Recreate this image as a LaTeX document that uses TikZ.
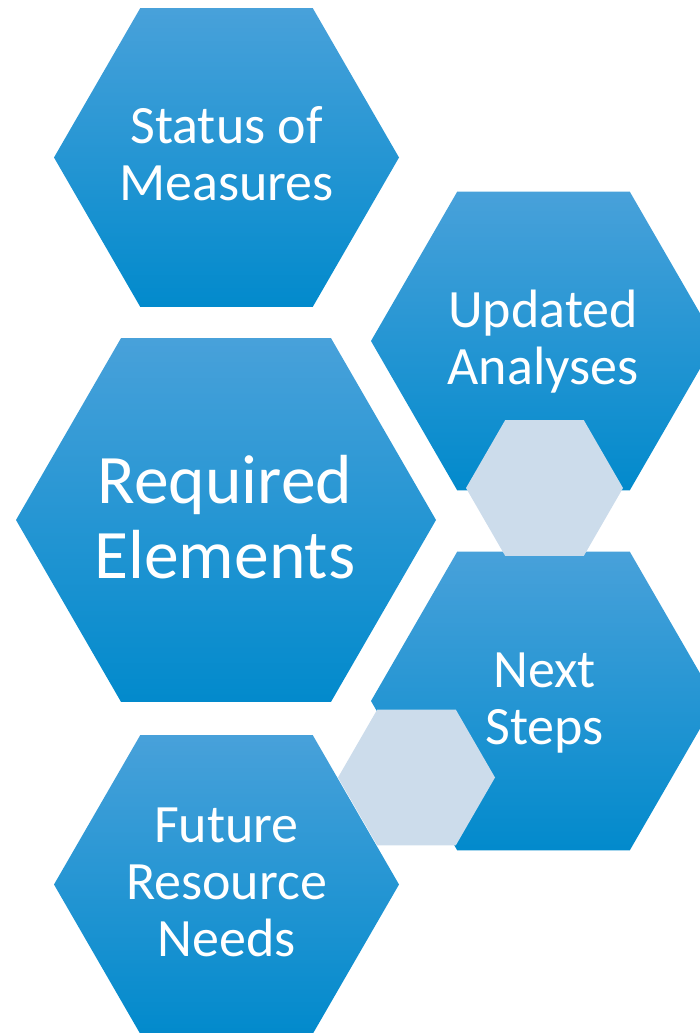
\documentclass[tikz,border=0pt]{standalone}
\usepackage{fontspec}
\setmainfont{Carlito}
\definecolor{hextop}{RGB}{72,161,218}
\definecolor{hexmid}{RGB}{4,154,220}
\definecolor{hexbot}{RGB}{2,138,204}
\definecolor{hexlight}{RGB}{204,220,235}
\tikzset{
  bighex/.style={top color=hextop, middle color=hexmid, bottom color=hexbot, draw=none},
  smallhex/.style={fill=hexlight, draw=none},
  lbl/.style={text=white, inner sep=0pt, anchor=base, font=\fontsize{54}{57}\selectfont},
  biglbl/.style={lbl, font=\fontsize{69.5}{75}\selectfont},
}
\newcommand\hexat[4]{\path[#1] ({#2-#4},{#3}) -- ({#2-0.5*#4},{#3-0.8660254*#4}) -- ({#2+0.5*#4},{#3-0.8660254*#4}) -- ({#2+#4},{#3}) -- ({#2+0.5*#4},{#3+0.8660254*#4}) -- ({#2-0.5*#4},{#3+0.8660254*#4}) -- cycle;}
\newcommand\hexlines[1]{\begin{tabular}[t]{@{}c@{}}#1\end{tabular}}
\begin{document}
\begin{tikzpicture}[x=1pt,y=-1pt]
\useasboundingbox (0,0) rectangle (700,1033);
\clip (0,0) rectangle (700,1033);
% large hexagons
\hexat{bighex}{226.5}{157.5}{172.5}
\hexat{bighex}{543.5}{341}{172.5}
\hexat{bighex}{226}{520}{210}
\hexat{bighex}{543.5}{701}{172.5}
\hexat{bighex}{226.5}{884.5}{172.5}
% small light hexagons
\hexat{smallhex}{544.5}{488}{78.5}
\hexat{smallhex}{416.5}{777.5}{78.5}
% labels
\node[lbl] (status) at (226.5,143) {\hexlines{Status of\\Measures}};
\node[lbl] (updated) at (543,327) {\hexlines{Updated\\Analyses}};
\node[biglbl] (required) at (225,503) {\hexlines{Required\\Elements}};
\node[lbl] (next) at (544.5,687) {\hexlines{Next\\Steps}};
\node[lbl] (future) at (226.5,842) {\hexlines{Future\\Resource\\Needs}};
\end{tikzpicture}
\end{document}
